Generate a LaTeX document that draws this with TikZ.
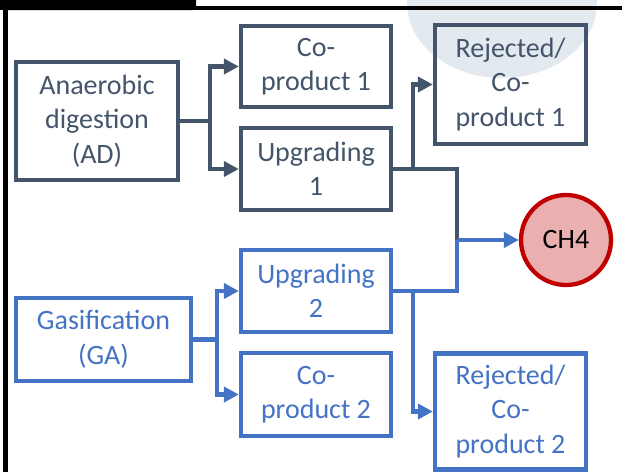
\documentclass[tikz,border=0pt]{standalone}
\usepackage{fontspec}
\setmainfont{Carlito}
\usetikzlibrary{arrows.meta}

\definecolor{slate}{HTML}{44546A}
\definecolor{office}{HTML}{4472C4}
\definecolor{haze}{HTML}{E2E9EF}
\definecolor{ch4fill}{HTML}{EAB0B0}
\definecolor{ch4line}{HTML}{C00000}

\tikzset{
  x=1pt, y=-1pt,
  every node/.style={font=\fontsize{28}{34.5}\selectfont, align=center, inner sep=0pt},
  darkbox/.style={draw=slate, text=slate, line width=4.3pt, rectangle},
  bluebox/.style={draw=office, text=office, line width=4.3pt, rectangle},
  darkflow/.style={draw=slate, line width=4.3pt},
  blueflow/.style={draw=office, line width=4.3pt},
  tip/.style={-{Triangle[length=15pt,width=15pt]}},
}

\begin{document}
\begin{tikzpicture}
\useasboundingbox (0,0) rectangle (622,472);

% pale disc behind the upper right
\fill[haze] (502,3) ellipse [x radius=95, y radius=75];

% frame pieces along the top and left
\draw[black, line width=4pt] (0,8) -- (622,8);
\fill[black, rounded corners=3pt] (0,-3) -- (196,-3) -- (196,10) -- (0,10) -- cycle;
\draw[black, line width=4.5pt] (5.5,0) -- (5.5,472);

% process boxes
\node[darkbox, minimum width=162, minimum height=118] (ad)   at (97,121)    {Anaerobic\\digestion\\(AD)};
\node[darkbox, minimum width=150, minimum height=81]  (co1)  at (316,66.5)  {Co-\\product 1};
\node[darkbox, minimum width=150, minimum height=82]  (up1)  at (316,169)   {Upgrading\\1};
\node[darkbox, minimum width=151, minimum height=119] (rej1) at (510.5,84.5){Rejected/\\Co-\\product 1};

\node[bluebox, minimum width=175, minimum height=83]  (ga)   at (103.5,339.5){Gasification\\(GA)};
\node[bluebox, minimum width=150, minimum height=82]  (up2)  at (316,291)   {Upgrading\\2};
\node[bluebox, minimum width=150, minimum height=83]  (co2)  at (316,394.5) {Co-\\product 2};
\node[bluebox, minimum width=151, minimum height=116] (rej2) at (510.5,411.5){Rejected/\\Co-\\product 2};

\node[circle, draw=ch4line, fill=ch4fill, line width=4.3pt, minimum size=90, text=black] (ch4) at (566,240) {CH4};

% junction points
\coordinate (j1) at (210,0 |- ad.east);
\coordinate (j2) at (217,0 |- ga.east);
\coordinate (s1) at (413,0 |- up1.east);
\coordinate (s2) at (413,0 |- up2.east);
\coordinate (m)  at (457,0 |- ch4.west);

% AD branch
\draw[darkflow] (ad.east) -- (j1);
\draw[darkflow, tip] (j1) |- (co1.west);
\draw[darkflow, tip] (j1) |- (up1.west);
\draw[darkflow, tip] (s1) |- (rej1.west);
\draw[darkflow] (up1.east) -| (m);

% GA branch
\draw[blueflow] (ga.east) -- (j2);
\draw[blueflow, tip] (j2) |- (up2.west);
\draw[blueflow, tip] (j2) |- (co2.west);
\draw[blueflow, tip] (s2) |- (rej2.west);
\draw[blueflow] (up2.east) -| (m);
\draw[blueflow, tip] (m) -- (ch4.west);
\end{tikzpicture}
\end{document}
